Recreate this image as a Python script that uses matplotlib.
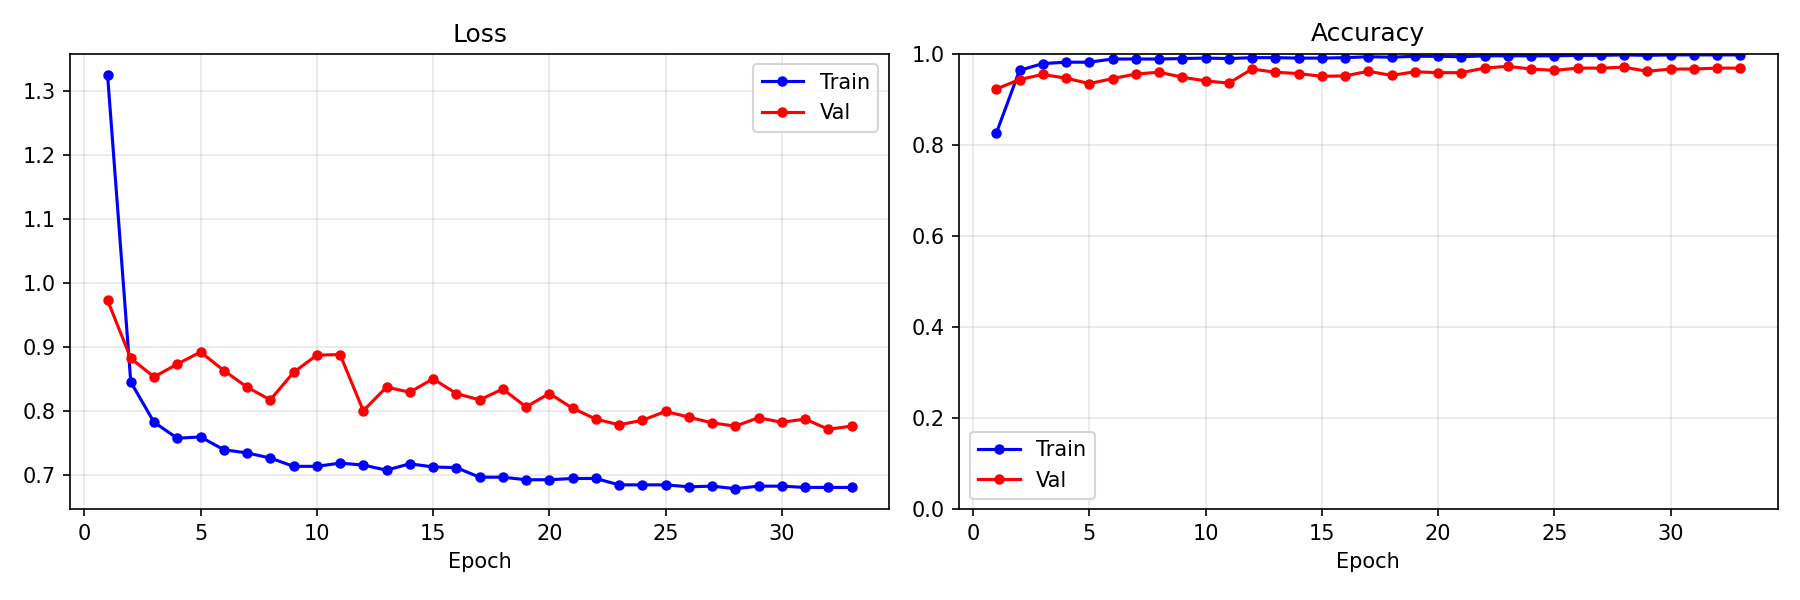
import matplotlib
matplotlib.use("Agg")
import matplotlib.pyplot as plt

epochs = list(range(1, 34))

train_loss = [1.326, 0.845, 0.782, 0.757, 0.759, 0.739, 0.734, 0.726, 0.713, 0.713,
              0.718, 0.715, 0.707, 0.717, 0.712, 0.711, 0.696, 0.696, 0.692, 0.692,
              0.694, 0.694, 0.684, 0.684, 0.684, 0.681, 0.682, 0.678, 0.682, 0.682,
              0.680, 0.680, 0.680]
val_loss = [0.973, 0.882, 0.853, 0.873, 0.892, 0.863, 0.837, 0.817, 0.860, 0.887,
            0.888, 0.800, 0.837, 0.829, 0.850, 0.827, 0.817, 0.834, 0.806, 0.827,
            0.804, 0.787, 0.778, 0.785, 0.799, 0.790, 0.781, 0.776, 0.789, 0.782,
            0.787, 0.771, 0.776]

train_acc = [0.826, 0.964, 0.979, 0.982, 0.982, 0.989, 0.989, 0.989, 0.990, 0.991,
             0.990, 0.992, 0.992, 0.991, 0.991, 0.992, 0.994, 0.993, 0.995, 0.995,
             0.994, 0.996, 0.996, 0.996, 0.996, 0.997, 0.997, 0.998, 0.997, 0.998,
             0.998, 0.998, 0.998]
val_acc = [0.923, 0.944, 0.955, 0.947, 0.935, 0.946, 0.956, 0.960, 0.949, 0.941,
           0.936, 0.967, 0.960, 0.957, 0.951, 0.952, 0.962, 0.953, 0.961, 0.959,
           0.959, 0.969, 0.973, 0.967, 0.964, 0.969, 0.969, 0.971, 0.962, 0.967,
           0.967, 0.969, 0.969]

fig, axes = plt.subplots(1, 2, figsize=(12, 4), dpi=150)

ax = axes[0]
ax.plot(epochs, train_loss, 'o-', color='blue', markersize=4, label='Train')
ax.plot(epochs, val_loss, 'o-', color='red', markersize=4, label='Val')
ax.set_title('Loss')
ax.set_xlabel('Epoch')
ax.legend()
ax.grid(True, alpha=0.3)

ax = axes[1]
ax.plot(epochs, train_acc, 'o-', color='blue', markersize=4, label='Train')
ax.plot(epochs, val_acc, 'o-', color='red', markersize=4, label='Val')
ax.set_title('Accuracy')
ax.set_xlabel('Epoch')
ax.set_ylim(0, 1)
ax.legend()
ax.grid(True, alpha=0.3)

plt.tight_layout()
fig.subplots_adjust(bottom=0.151)
plt.savefig('out.png')
